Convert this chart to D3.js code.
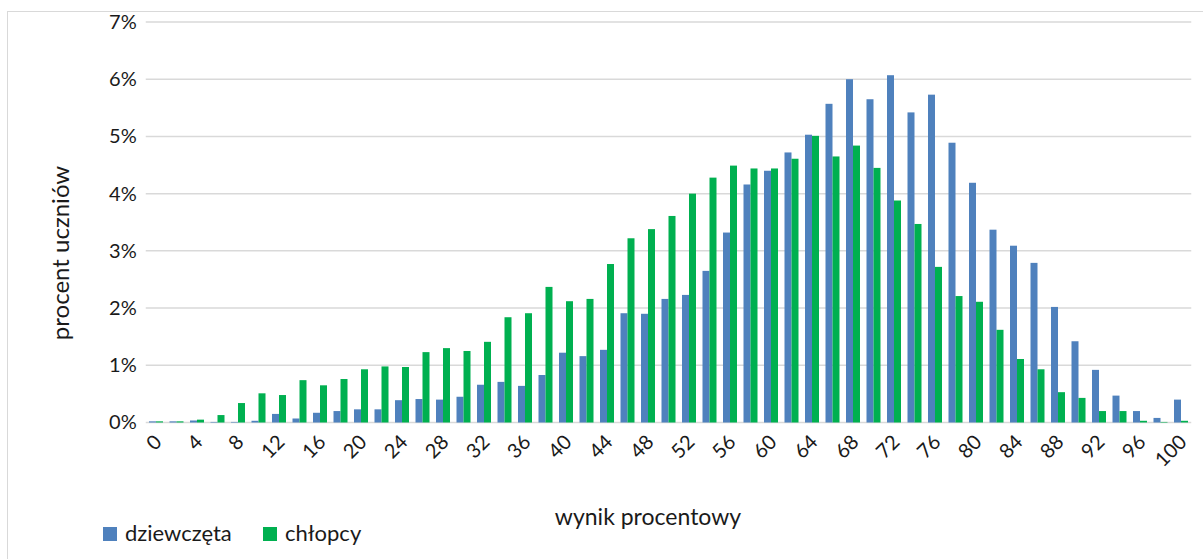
<!DOCTYPE html>
<html><head><meta charset="utf-8">
<script src="https://cdn.jsdelivr.net/npm/d3@7"></script>
<style>body{margin:0;background:#fff;} svg{display:block;font-family:Lato,'Open Sans',sans-serif;}</style>
</head><body>
<svg id="chart" width="1203" height="559"></svg>
<script>
const categories = d3.range(0, 101, 2);
const tickLabels = d3.range(0, 101, 4);
const seriesNames = ["dziewczęta", "chłopcy"];
const dziewczeta = [0.02,0.02,0.035,0.01,0.01,0.03,0.15,0.07,0.17,0.20,0.23,0.23,0.39,0.41,0.40,0.45,0.66,0.71,0.64,0.83,1.22,1.16,1.27,1.91,1.90,2.16,2.23,2.65,3.32,4.16,4.40,4.72,5.03,5.57,6.00,5.65,6.07,5.42,5.73,4.89,4.19,3.37,3.09,2.79,2.02,1.42,0.92,0.47,0.20,0.08,0.40];
const chlopcy = [0.02,0.02,0.05,0.13,0.34,0.51,0.48,0.74,0.65,0.76,0.93,0.98,0.97,1.23,1.30,1.25,1.41,1.84,1.91,2.37,2.12,2.16,2.77,3.22,3.38,3.61,4.00,4.28,4.49,4.44,4.44,4.61,5.01,4.65,4.84,4.45,3.88,3.47,2.72,2.21,2.11,1.62,1.11,0.93,0.53,0.43,0.20,0.20,0.03,0.01,0.03];
const yTicks = [0,1,2,3,4,5,6,7];
const colors = ["#4f81bd", "#00b050"];

const svg = d3.select("#chart");
const m = {left: 145.75, right: 1191.25, top: 22, bottom: 422.5};

// outer frame
svg.append("rect").attr("x", 7.5).attr("y", 11.5).attr("width", 1210).attr("height", 570)
  .attr("fill", "none").attr("stroke", "#d9d9d9").attr("stroke-width", 1);

const x = d3.scaleBand().domain(categories).range([m.left, m.right]).paddingInner(0.317).paddingOuter(0.1585);
const xs = d3.scaleBand().domain([0,1]).range([0, x.bandwidth()]);
const y = d3.scaleLinear().domain([0, 7]).range([m.bottom, m.top]);

// gridlines
svg.append("g").selectAll("line").data(yTicks).join("line")
  .attr("x1", m.left).attr("x2", m.right)
  .attr("y1", d => y(d)).attr("y2", d => y(d))
  .attr("stroke", "#d9d9d9").attr("stroke-width", 1.5);

// y axis labels
const yAxis = d3.axisLeft(y).tickValues(yTicks).tickFormat(d => d + "%").tickSize(0).tickPadding(0);
const gy = svg.append("g").attr("transform", `translate(${m.left - 9},0)`).call(yAxis);
gy.select(".domain").remove();
gy.selectAll("text").attr("font-size", 20).attr("fill", "#1a1a1a").attr("font-family", "Lato");

// bars
const data = categories.map((c, i) => ({c, vals: [dziewczeta[i], chlopcy[i]]}));
const groups = svg.append("g").selectAll("g").data(data).join("g")
  .attr("transform", d => `translate(${x(d.c)},0)`);
groups.selectAll("rect").data(d => d.vals.map((v, k) => ({v, k}))).join("rect")
  .attr("x", d => xs(d.k)).attr("width", xs.bandwidth())
  .attr("y", d => y(d.v)).attr("height", d => y(0) - y(d.v))
  .attr("fill", d => colors[d.k]);

// x axis labels
const xAxis = d3.axisBottom(x).tickValues(tickLabels).tickSize(0).tickPadding(0);
const gx = svg.append("g").attr("transform", `translate(0,${m.bottom})`).call(xAxis);
gx.select(".domain").remove();
gx.selectAll("text")
  .attr("font-size", 20).attr("fill", "#1a1a1a").attr("font-family", "Lato")
  .attr("text-anchor", "end")
  .attr("transform", "translate(-3,11) rotate(-45)")
  .attr("dy", "0.7em").attr("y", 0).attr("x", 0);

// axis titles
svg.append("text").attr("x", 648).attr("y", 525).attr("text-anchor", "middle")
  .attr("font-size", 23).attr("fill", "#1a1a1a").text("wynik procentowy");
svg.append("text").attr("transform", "translate(69,253) rotate(-90)").attr("text-anchor", "middle")
  .attr("font-size", 24).attr("fill", "#1a1a1a").text("procent uczniów");

// legend
const leg = svg.append("g").selectAll("g").data(seriesNames).join("g")
  .attr("transform", (d, i) => `translate(${[103, 263][i]},527)`);
leg.append("rect").attr("width", 14).attr("height", 14).attr("fill", (d, i) => colors[i]);
leg.append("text").attr("x", 22).attr("y", 14).attr("font-size", 22).attr("fill", "#1a1a1a").text(d => d);
</script>
</body></html>
